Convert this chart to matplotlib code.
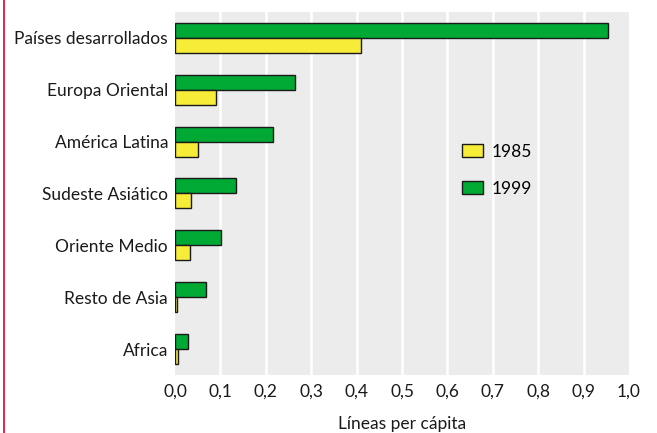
import numpy as np
import matplotlib.pyplot as plt
from matplotlib.lines import Line2D

plt.rcParams['font.family'] = ['Lato', 'DejaVu Sans']

# data
regions = ["Países desarrollados", "Europa Oriental", "América Latina",
           "Sudeste Asiático", "Oriente Medio", "Resto de Asia", "Africa"]
v1985 = [0.41, 0.09, 0.051, 0.035, 0.033, 0.004, 0.007]
v1999 = [0.954, 0.264, 0.215, 0.134, 0.101, 0.068, 0.029]
xticks = [0.0, 0.1, 0.2, 0.3, 0.4, 0.5, 0.6, 0.7, 0.8, 0.9, 1.0]
xticklabels = ["0,0", "0,1", "0,2", "0,3", "0,4", "0,5", "0,6", "0,7", "0,8", "0,9", "1,0"]

green = "#00a934"
yellow = "#f7ec37"
fs = 12.5

fig = plt.figure(figsize=(6.57, 4.33), dpi=100)
ax = fig.add_axes([0.2664, 0.134, 0.6910, 0.8386])
ax.set_facecolor("#ececec")

y = np.arange(len(regions))
h = 0.29
ax.barh(y - h / 2, v1999, height=h, color=green, edgecolor="#1a1a1a", linewidth=1, label="1999", zorder=3)
ax.barh(y + h / 2, v1985, height=h, color=yellow, edgecolor="#1a1a1a", linewidth=1, label="1985", zorder=3)

ax.set_xlim(0, 1.0)
ax.set_ylim(6.5, -0.5)
ax.set_yticks(y)
ax.set_yticklabels(regions)
ax.set_xticks(xticks)
ax.set_xticklabels(xticklabels)
ax.tick_params(axis="both", length=0, labelsize=fs, colors="#1a1a1a")
ax.tick_params(axis="y", pad=5)
ax.tick_params(axis="x", pad=6)
for x in xticks[1:-1]:
    ax.axvline(x, color="white", linewidth=1.8, zorder=1)
for s in ax.spines.values():
    s.set_visible(False)

ax.set_xlabel("Líneas per cápita", fontsize=fs, color="#1a1a1a", labelpad=12)

hs, ls = ax.get_legend_handles_labels()
leg = ax.legend(hs[::-1], ls[::-1], loc="upper left", bbox_to_anchor=(0.598, 0.68),
                frameon=False, fontsize=fs, handlelength=1.2, handleheight=0.75,
                labelspacing=1.2, handletextpad=0.5)

# red page border on the left
fig.add_artist(Line2D([0.006, 0.006], [0, 1], color="#e2002b", linewidth=1.2))

fig.savefig("out.png", dpi=100)
